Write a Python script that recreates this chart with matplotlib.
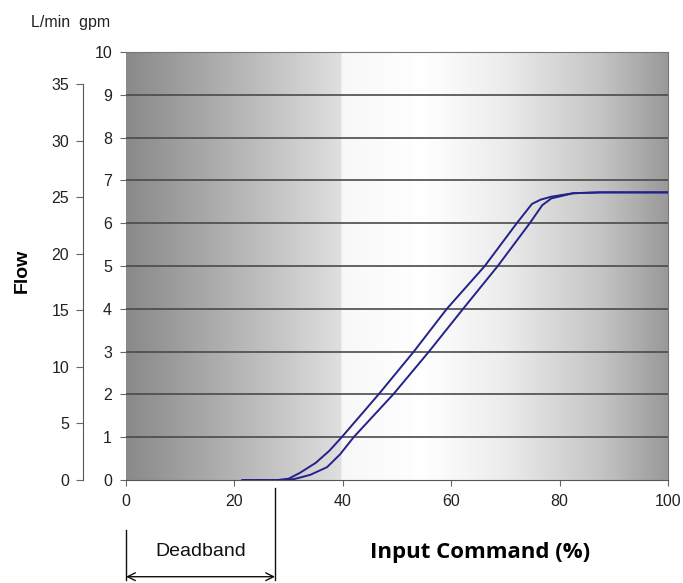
import matplotlib.pyplot as plt
import numpy as np
from matplotlib.colors import LinearSegmentedColormap

# flow curve, increasing / decreasing command (hysteresis), flow in gpm
cmd_up = [21.5, 28, 30, 32, 35, 37.5, 39.8, 46.6, 53.1, 59.2, 66.2, 72.1, 74.9, 76.5, 78.5, 82.5, 87.5, 100]
flow_up = [0, 0, 0.03, 0.16, 0.4, 0.68, 1, 2, 3, 4, 5, 6, 6.45, 6.55, 6.62, 6.7, 6.72, 6.72]
cmd_down = [21.5, 29, 31, 34, 37.1, 39.5, 42.0, 49.3, 55.9, 62.2, 68.6, 74.5, 76.8, 78.5, 82.5, 87.5, 100]
flow_down = [0, 0, 0.02, 0.12, 0.3, 0.6, 1, 2, 3, 4, 5, 6, 6.42, 6.58, 6.7, 6.72, 6.72]

gpm_ticks = list(range(0, 11))
lpm_ticks = [0, 5, 10, 15, 20, 25, 30, 35]
x_ticks = [0, 20, 40, 60, 80, 100]
deadband_end = 27.5
GPM_TO_LPM = 3.785

plt.rcParams["font.family"] = ["Liberation Sans", "DejaVu Sans"]

fig = plt.figure(figsize=(6.83, 5.83), dpi=100)
ax = fig.add_axes([0.1845, 0.1767, 0.7935, 0.7341])

# grey background gradient
bg = LinearSegmentedColormap.from_list(
    "bg",
    [(0.0, "#8a8a8a"), (0.2, "#b4b4b4"), (0.399, "#e0e0e0"), (0.4, "#f8f8f8"),
     (0.55, "#ffffff"), (0.7, "#ececec"), (0.88, "#c4c4c4"), (1.0, "#9a9a9a")],
)
ax.imshow(np.linspace(0, 1, 400)[None, :], cmap=bg, aspect="auto",
          extent=[0, 100, 0, 10], zorder=0)

for g in gpm_ticks[1:]:
    ax.axhline(g, color="#4a4a4a", lw=1.2, zorder=1)

line_kw = dict(color="#22228a", lw=1.4, zorder=3)
ax.plot(cmd_up, flow_up, **line_kw)
ax.plot(cmd_down, flow_down, **line_kw)

ax.set_xlim(0, 100)
ax.set_ylim(0, 10)
ax.set_xticks(x_ticks)
ax.set_yticks(gpm_ticks)
ax.tick_params(axis="both", direction="out", length=4, width=0.8, color="#666666",
               labelsize=11.5, labelcolor="#222222")
ax.tick_params(axis="y", pad=6)
ax.tick_params(axis="x", pad=6)
for side in ["top", "right"]:
    ax.spines[side].set_color("#777777")
ax.spines["left"].set_visible(False)
ax.spines["bottom"].set_color("#555555")

# secondary L/min axis
ax2 = ax.twinx()
ax2.yaxis.tick_left()
ax2.yaxis.set_label_position("left")
ax2.spines["left"].set_position(("outward", 31))
ax2.spines["left"].set_visible(True)
ax2.spines["right"].set_visible(False)
ax2.spines["top"].set_visible(False)
ax2.spines["bottom"].set_visible(False)
ax2.set_ylim(0, 10 * GPM_TO_LPM)
ax2.set_yticks(lpm_ticks)
ax2.spines["left"].set_bounds(0, 35)
ax2.spines["left"].set_color("#555555")
ax2.tick_params(axis="y", direction="out", length=5, width=0.8, color="#666666",
                labelsize=11.5, labelcolor="#222222", pad=5)

fig.text(0.033, 0.535, "Flow", rotation=90, fontsize=14, fontweight="bold",
         ha="center", va="center")
fig.text(0.045, 0.962, "L/min  gpm", fontsize=11.5, color="#222222",
         ha="left", va="center")
fig.text(0.703, 0.053, "Input Command (%)", fontsize=16, fontweight="bold",
         family=["Open Sans", "DejaVu Sans"], ha="center", va="center")

# deadband annotation
trans = ax.get_xaxis_transform()
ax.plot([0, 0], [-0.117, -0.233], transform=trans, color="#111111", lw=1.0, clip_on=False)
ax.plot([deadband_end, deadband_end], [-0.019, -0.233], transform=trans,
        color="#111111", lw=1.0, clip_on=False)
ax.annotate("", xy=(0, -0.226), xytext=(deadband_end, -0.226),
            xycoords=trans, textcoords=trans,
            arrowprops=dict(arrowstyle="<->", color="#111111", lw=1.0,
                            shrinkA=0, shrinkB=0, mutation_scale=14))
ax.text(deadband_end / 2, -0.168, "Deadband", transform=trans, fontsize=14,
        ha="center", va="center", color="#111111")

fig.savefig("out.png", dpi=100, facecolor="white")
